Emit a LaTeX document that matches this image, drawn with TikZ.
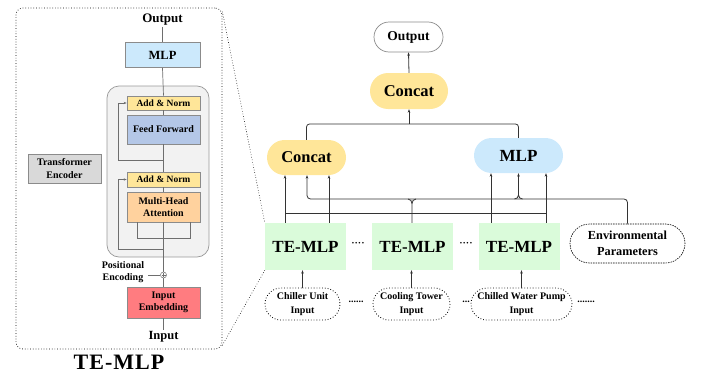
\documentclass[tikz,border=0pt]{standalone}
\usepackage{fontspec}
\setmainfont{Liberation Serif}[BoldFont={Liberation Serif Bold}]
\usetikzlibrary{shapes.misc,arrows.meta}
\definecolor{goldc}{HTML}{FFE699}
\definecolor{bluec}{HTML}{CCE9FC}
\definecolor{greenc}{HTML}{DAFBDA}
\definecolor{ffc}{HTML}{B4C7E7}
\definecolor{mhac}{HTML}{FFD29E}
\definecolor{embc}{HTML}{FF7C80}
\definecolor{tec}{HTML}{D9D9D9}
\definecolor{encc}{HTML}{F2F2F2}
\definecolor{lnc}{HTML}{333333}
\definecolor{glc}{HTML}{6E6E6E}
\newcommand{\fs}[2]{\rmfamily\bfseries\fontsize{#1}{#2}\selectfont}
\begin{document}
\begin{tikzpicture}[x=1pt,y=-1pt,
  lbox/.style={draw=glc!80, line width=0.7pt, inner sep=0pt, align=center, font=\fs{10}{12.5}},
  pill/.style={rounded rectangle, inner sep=0pt, align=center},
  temlp/.style={fill=greenc, inner sep=0pt, minimum width=81pt, minimum height=47pt, font=\fs{17}{19}},
  inbox/.style={pill, draw=black, dotted, line width=0.8pt, minimum height=32pt, font=\fs{10}{14}},
  gl/.style={draw=glc, line width=0.7pt},
  cn/.style={draw=lnc, line width=0.8pt},
  arr/.style={cn, -{Stealth[length=3.5pt,width=2.6pt]}},
  garr/.style={gl, -{Stealth[length=3pt,width=2.4pt]}},
  zoomln/.style={draw=black, dotted, line width=0.6pt},
  dotstxt/.style={inner sep=0pt, font=\fs{10}{12}}
]
\useasboundingbox (0,0) rectangle (713,375);

% ---------- left panel ----------
\node[draw=black, dotted, line width=0.7pt, rounded corners=7pt, minimum width=206pt, minimum height=341pt, inner sep=0pt] (panel) at (119,178.5) {};
\node[inner sep=0pt, font=\fs{22}{24}] (biglbl) at (119,362) {T\kern1ptE\kern1pt-\kern1ptM\kern1ptL\kern1ptP};

\node[inner sep=1pt, font=\fs{13}{15}] (outL) at (162.5,20) {Output};
\node[lbox, fill=bluec, minimum width=75pt, minimum height=25pt, font=\fs{12.5}{14}] (mlpL) at (162.5,55) {MLP};
\node[draw=glc!70, line width=0.7pt, fill=encc, rounded corners=12pt, minimum width=102pt, minimum height=171pt, inner sep=0pt] (enc) at (158,171.5) {};
\node[lbox, fill=goldc, minimum width=73pt, minimum height=14pt, font=\fs{9.5}{11}] (an1) at (163.5,103) {Add \& Norm};
\node[lbox, fill=ffc, minimum width=73pt, minimum height=29pt] (ff) at (163.5,129.5) {Feed Forward};
\node[lbox, fill=goldc, minimum width=73pt, minimum height=15pt, font=\fs{9.5}{11}] (an2) at (163.5,179.5) {Add \& Norm};
\node[lbox, fill=mhac, minimum width=73pt, minimum height=30pt] (mha) at (163.5,207) {Multi-Head\\Attention};
\node[circle, draw=glc, line width=0.5pt, fill=white, minimum size=6pt, inner sep=0pt] (plus) at (163.5,275) {};
\node[lbox, fill=embc, minimum width=73pt, minimum height=31pt] (emb) at (163.5,302.5) {Input\\Embedding};
\node[inner sep=1pt, font=\fs{12.5}{14}] (inL) at (163.5,337) {Input};
\node[lbox, fill=tec, minimum width=73pt, minimum height=29pt] (tel) at (64.5,168.5) {Transformer\\Encoder};
\node[inner sep=0pt, align=center, font=\fs{10}{12.5}] (pos) at (123,272) {Positional\\Encoding};

\draw[gl, line width=0.4pt] ([xshift=-2pt]plus.center) -- ([xshift=2pt]plus.center);
\draw[gl, line width=0.4pt] ([yshift=-2pt]plus.center) -- ([yshift=2pt]plus.center);

\draw[gl] (outL.south) -- (mlpL.north);
\draw[gl] (mlpL.south) -- (an1.north);
\draw[gl] (an1.south) -- (ff.north);
\draw[gl] (ff.south) -- (an2.north);
\draw[gl] (an2.south) -- (mha.north);
\draw[gl] (mha.south) -- (plus.north);
\draw[gl] (plus.south) -- (emb.north);
\draw[gl] (emb.south) -- (inL.north);
\draw[gl] (137,222) -- (137,238) -- (190,238) -- (190,222);
\draw[garr] (163.5,160) -- (118,160) |- (an1.west);
\draw[garr] (163.5,249) -- (118,249) |- (an2.west);
\draw[gl] (148,275) -- (plus.west);

% ---------- right part ----------
\node[pill, draw=glc!80, line width=0.7pt, fill=white, minimum width=69pt, minimum height=30pt, font=\fs{13.5}{15}] (outR) at (408.5,37) {Output};
\node[pill, fill=goldc, minimum width=78pt, minimum height=36pt, font=\fs{16.5}{18}] (cc2) at (409,91) {Concat};
\node[pill, fill=goldc, minimum width=79pt, minimum height=35pt, font=\fs{16.5}{18}] (cc1) at (306.5,157.5) {Concat};
\node[pill, fill=bluec, minimum width=89pt, minimum height=35pt, font=\fs{17}{19}] (mlpR) at (518.5,155.5) {MLP};
\node[temlp] (te1) at (305.5,246.5) {TE-MLP};
\node[temlp] (te2) at (412.5,246.5) {TE-MLP};
\node[temlp] (te3) at (519,246.5) {TE-MLP};
\node[pill, draw=black, dashed, dash pattern=on 1.5pt off 1pt, line width=0.6pt, minimum width=115pt, minimum height=39pt, font=\fs{12.3}{15.5}] (env) at (627.5,243.5) {Environmental\\Parameters};
\node[inbox, minimum width=75pt] (in1) at (302.5,304) {Chiller Unit\\Input};
\node[inbox, minimum width=77pt] (in2) at (411.5,304) {Cooling Tower\\Input};
\node[inbox, minimum width=101pt] (in3) at (521.5,304) {Chilled Water Pump\\Input};

\node[dotstxt] (d1) at (358,244) {····};
\node[dotstxt] (d2) at (466,244) {····};
\node[dotstxt] (d3) at (356,302) {......};
\node[dotstxt] (d4) at (466,302) {...};
\node[dotstxt] (d5) at (586,302) {.......};

% zoom connectors
\draw[zoomln] (panel.north east) ++(0,4) -- (te1.north west);
\draw[zoomln] (panel.south east) ++(0,-4) -- (te1.south west);

% connectors
\draw[arr] (cc2.north) -- (outR.south);
\draw[cn, rounded corners=3pt] (cc1.north) |- (409,124) -| (mlpR.north);
\draw[arr] (409,124) -- (cc2.south);

\draw[arr] (te1.north -| 285,0) -- (cc1.south -| 285,0);
\draw[arr] (te1.north -| 329,0) -- (cc1.south -| 329,0);
\draw[arr] (te3.north -| 491,0) -- (mlpR.south -| 491,0);
\draw[arr] (te3.north -| 546,0) -- (mlpR.south -| 546,0);
\draw[cn] (285,213) -- (546,213);

\draw[arr, rounded corners=3.5pt] (env.north) |- (307,199) -- (cc1.south -| 307,0);
\draw[cn] (te2.north -| 412,0) -- (412,203.5) to[out=90,in=0] (408,199);
\draw[cn] (412,203.5) to[out=90,in=180] (416,199);
\draw[arr] (518.5,195) -- (mlpR.south -| 518.5,0);
\draw[cn] (514.5,199) to[out=0,in=-90] (518.5,195) to[out=-90,in=180] (522.5,199);

\draw[arr] (in1.north) -- (in1.north |- te1.south);
\draw[arr] (in2.north) -- (in2.north |- te2.south);
\draw[arr] (in3.north) -- (in3.north |- te3.south);
\end{tikzpicture}
\end{document}
